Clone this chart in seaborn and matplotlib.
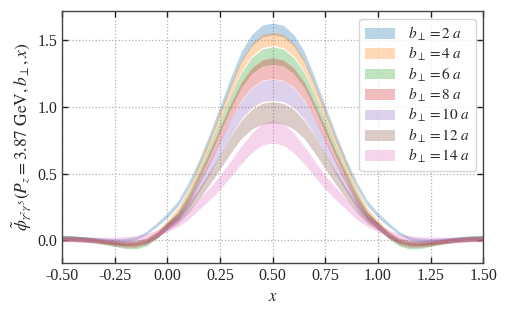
"""
Quasi-DA bands vs x for several transverse separations b_perp (P_z = 3.87 GeV).
"""

import matplotlib
matplotlib.use("Agg")
import matplotlib.pyplot as plt
from matplotlib.patches import Patch
import numpy as np
import pandas as pd
import seaborn as sns

# x grid on the left half (-0.5 .. 0.5); the curves are symmetric about x = 0.5
x_half = np.array([-0.50, -0.45, -0.40, -0.35, -0.30, -0.25, -0.20, -0.15, -0.10, -0.05,
                   0.00, 0.05, 0.10, 0.15, 0.20, 0.25, 0.30, 0.35, 0.40, 0.45, 0.50])

b_values = [2, 4, 6, 8, 10, 12, 14]

# band centres
c_b2 = [0.025, 0.022, 0.017, 0.010, 0.004, 0.000, 0.002, 0.015, 0.055, 0.118,
        0.188, 0.277, 0.412, 0.579, 0.769, 0.975, 1.185, 1.375, 1.500, 1.569, 1.585]
c_b4 = [0.020, 0.018, 0.012, 0.003, -0.008, -0.018, -0.025, -0.020, 0.005, 0.058,
        0.130, 0.220, 0.360, 0.551, 0.732, 0.929, 1.128, 1.310, 1.430, 1.495, 1.510]
c_b6 = [0.020, 0.017, 0.010, 0.000, -0.013, -0.030, -0.045, -0.048, -0.025, 0.035,
        0.110, 0.190, 0.320, 0.490, 0.665, 0.852, 1.035, 1.200, 1.310, 1.371, 1.385]
c_b8 = [0.010, 0.008, 0.003, -0.004, -0.013, -0.025, -0.035, -0.035, -0.015, 0.035,
        0.110, 0.180, 0.300, 0.460, 0.620, 0.793, 0.963, 1.118, 1.220, 1.277, 1.290]
c_b10 = [0.015, 0.013, 0.009, 0.003, -0.005, -0.012, -0.020, -0.020, -0.005, 0.040,
         0.110, 0.170, 0.270, 0.405, 0.545, 0.695, 0.844, 0.978, 1.069, 1.119, 1.130]
c_b12 = [0.010, 0.009, 0.006, 0.000, -0.008, -0.015, -0.020, -0.018, 0.000, 0.040,
         0.100, 0.155, 0.240, 0.350, 0.466, 0.590, 0.716, 0.831, 0.908, 0.950, 0.960]
c_b14 = [0.008, 0.008, 0.007, 0.005, 0.004, 0.005, 0.008, 0.015, 0.030, 0.055,
         0.090, 0.130, 0.190, 0.270, 0.350, 0.435, 0.535, 0.640, 0.730, 0.795, 0.815]

# band half-widths
w_b2 = [0.012, 0.012, 0.012, 0.012, 0.012, 0.012, 0.012, 0.012, 0.012, 0.015,
        0.018, 0.020, 0.023, 0.026, 0.030, 0.033, 0.036, 0.040, 0.042, 0.044, 0.045]
w_b4 = [0.013, 0.013, 0.013, 0.013, 0.013, 0.013, 0.013, 0.013, 0.013, 0.016,
        0.020, 0.022, 0.025, 0.029, 0.033, 0.037, 0.041, 0.045, 0.048, 0.050, 0.050]
w_b6 = [0.017, 0.017, 0.017, 0.017, 0.017, 0.017, 0.017, 0.017, 0.017, 0.019,
        0.022, 0.025, 0.030, 0.035, 0.040, 0.045, 0.050, 0.055, 0.060, 0.064, 0.065]
w_b8 = [0.016, 0.016, 0.016, 0.016, 0.016, 0.016, 0.016, 0.016, 0.016, 0.020,
        0.024, 0.028, 0.033, 0.040, 0.046, 0.053, 0.060, 0.066, 0.072, 0.076, 0.078]
w_b10 = [0.016, 0.016, 0.016, 0.016, 0.016, 0.016, 0.016, 0.016, 0.016, 0.020,
         0.025, 0.029, 0.035, 0.041, 0.048, 0.055, 0.062, 0.068, 0.074, 0.078, 0.080]
w_b12 = [0.017, 0.017, 0.017, 0.017, 0.017, 0.017, 0.017, 0.017, 0.017, 0.021,
         0.025, 0.029, 0.035, 0.041, 0.048, 0.055, 0.062, 0.068, 0.074, 0.078, 0.080]
w_b14 = [0.020, 0.020, 0.020, 0.020, 0.020, 0.020, 0.020, 0.020, 0.020, 0.022,
         0.025, 0.029, 0.034, 0.040, 0.046, 0.052, 0.059, 0.066, 0.074, 0.081, 0.085]

centres = [c_b2, c_b4, c_b6, c_b8, c_b10, c_b12, c_b14]
widths = [w_b2, w_b4, w_b6, w_b8, w_b10, w_b12, w_b14]


def mirror(vals):
    vals = np.asarray(vals, dtype=float)
    return np.concatenate([vals, vals[-2::-1]])


x_full = np.concatenate([x_half, 1.0 - x_half[-2::-1]])

# long table: lower and upper edge of each band as two observations per x
rows = []
for b, c, w in zip(b_values, centres, widths):
    c_full, w_full = mirror(c), mirror(w)
    label = rf"$b_\perp = {b}\ a$"
    for xi, ci, wi in zip(x_full, c_full, w_full):
        rows.append({"x": xi, "y": ci - wi, "b": label})
        rows.append({"x": xi, "y": ci + wi, "b": label})
df = pd.DataFrame(rows)
labels = list(dict.fromkeys(df["b"]))

sns.set_style("ticks")
plt.rcParams["font.family"] = ["Liberation Serif", "DejaVu Serif"]
plt.rcParams["mathtext.fontset"] = "stix"
plt.rcParams["axes.unicode_minus"] = True

palette = sns.color_palette("tab10", len(labels))

fig, ax = plt.subplots(figsize=(5.05, 3.12), dpi=100)
fig.subplots_adjust(left=0.123, right=0.957, bottom=0.157, top=0.965)

sns.lineplot(data=df, x="x", y="y", hue="b", hue_order=labels, palette=palette,
             estimator="mean", errorbar=("pi", 100), linewidth=0,
             err_kws={"alpha": 0.3, "linewidth": 0}, legend=False, ax=ax)

ax.set_xlim(-0.5, 1.5)
ax.set_ylim(-0.17, 1.72)
ax.set_xticks([-0.5, -0.25, 0.0, 0.25, 0.5, 0.75, 1.0, 1.25, 1.5])
ax.set_yticks([0.0, 0.5, 1.0, 1.5])
ax.xaxis.set_major_formatter(matplotlib.ticker.FormatStrFormatter("%.2f"))
ax.yaxis.set_major_formatter(matplotlib.ticker.FormatStrFormatter("%.1f"))
ax.grid(True, linestyle=":", color="#b0b0b0", linewidth=0.9)
ax.set_axisbelow(True)

ax.tick_params(direction="in", top=True, right=True, length=4, width=1,
               labelsize=11.5, color="#222222")
for sp in ax.spines.values():
    sp.set_color("#444444")
    sp.set_linewidth(1.0)

ax.set_xlabel(r"$x$", fontsize=12)
ax.set_ylabel(r"$\tilde{\phi}_{\gamma^z\gamma^5}(P_z=3.87\ \mathrm{GeV}, b_\perp, x)$",
              fontsize=12.5, labelpad=3)

handles = [Patch(facecolor=col, alpha=0.3, edgecolor="none", label=lab)
           for col, lab in zip(palette, labels)]
ax.legend(handles=handles, loc="upper right", fontsize=11, framealpha=0.8,
          handlelength=2.0, labelspacing=0.15, borderaxespad=0.5)

fig.savefig("out.png", dpi=100)
plt.close(fig)
